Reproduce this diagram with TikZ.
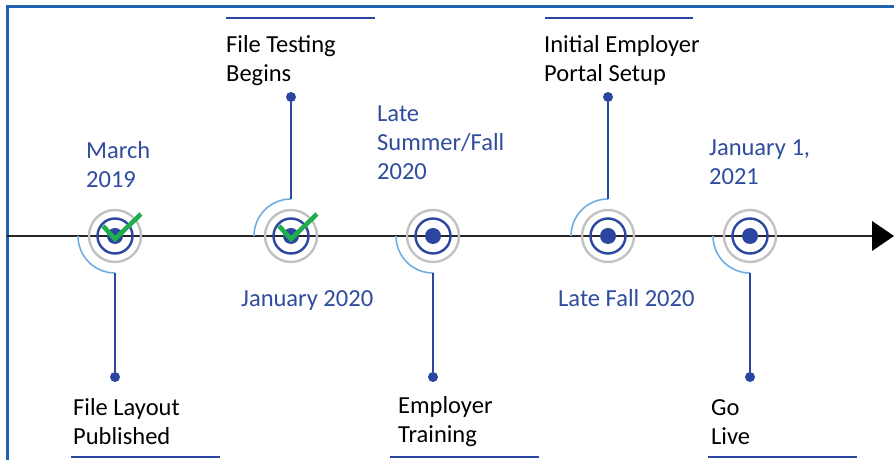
\documentclass[tikz,border=0pt]{standalone}
\usepackage{fontspec}
\setmainfont{Carlito}
\definecolor{frameblue}{HTML}{1F63B0}
\definecolor{dblue}{HTML}{2B46A0}
\definecolor{tblue}{HTML}{2F4C9E}
\definecolor{lblue}{HTML}{6FAEE3}
\definecolor{ringgray}{HTML}{C2C2C2}
\definecolor{ckgreen}{HTML}{1FAE4E}
\definecolor{axisc}{HTML}{262626}
\begin{document}
\begin{tikzpicture}[x=1pt,y=1pt,
  ring/.style={circle,draw=ringgray,line width=2.4pt,minimum size=52pt,inner sep=0pt},
  inring/.style={circle,draw=dblue,line width=2.4pt,minimum size=35pt,inner sep=0pt},
  core/.style={circle,fill=dblue,minimum size=16pt,inner sep=0pt},
  enddot/.style={circle,fill=dblue,minimum size=10pt,inner sep=0pt},
  stem/.style={draw=dblue,line width=1.8pt},
  lightarc/.style={draw=lblue,line width=1.6pt},
  bar/.style={draw=dblue,line width=2.6pt},
  datelbl/.style={anchor=base west,align=left,inner sep=0pt,text=tblue,font=\fontsize{24.5}{29}\selectfont},
  eventlbl/.style={anchor=base west,align=left,inner sep=0pt,text=black,font=\fontsize{24.5}{29}\selectfont},
  check/.style={draw=ckgreen,line width=4.6pt,line join=miter}
]
\useasboundingbox (0,0) rectangle (894,460);
\clip (0,0) rectangle (894,460);
\fill[white] (0,0) rectangle (894,460);
% frame
\draw[frameblue,line width=3pt] (7,-20) -- (7,453) -- (920,453);
% axis
\coordinate (ax0) at (7,224);
\coordinate (ax1) at (874,224);
\draw[axisc,line width=1.6pt] (ax0) -- (ax1);
\fill[black] (872,239) -- (894,224) -- (872,209) -- cycle;
% markers
\foreach \i/\x in {1/115,2/291,3/433,4/608,5/750}{
  \node[ring] (r\i) at (\x,224) {};
  \node[inring] (m\i) at (\x,224) {};
  \node[core] (c\i) at (\x,224) {};
}
% bottom stems
\foreach \i/\x in {1/115,3/433,5/750}{
  \coordinate (s\i) at (\x,187);
  \node[enddot] (d\i) at (\x,83) {};
  \draw[lightarc] (\x-37,224) arc[start angle=180,end angle=270,radius=37];
  \draw[stem] (s\i) -- (d\i);
}
% top stems
\foreach \i/\x in {2/291,4/608}{
  \coordinate (s\i) at (\x,261);
  \node[enddot] (d\i) at (\x,363) {};
  \draw[lightarc] (\x-37,224) arc[start angle=180,end angle=90,radius=37];
  \draw[stem] (s\i) -- (d\i);
}
% check marks
\draw[check] ([shift={(-12,10)}]c1.center) -- ([shift={(0,-3)}]c1.center) -- ([shift={(26,22)}]c1.center);
\draw[check] ([shift={(-12,10)}]c2.center) -- ([shift={(0,-3)}]c2.center) -- ([shift={(26,22)}]c2.center);
% date labels (anchor = baseline of last line)
\node[datelbl] (t1) at (86,272) {March\\2019};
\node[datelbl] (t2) at (241,153) {January 2020};
\node[datelbl] (t3) at (377,280) {Late\\Summer/Fall\\2020};
\node[datelbl] (t4) at (558,153) {Late Fall 2020};
\node[datelbl] (t5) at (709,275) {January 1,\\2021};
% event labels
\node[eventlbl] (e1) at (73,15) {File Layout\\Published};
\node[eventlbl] (e2) at (226,378) {File Testing\\Begins};
\node[eventlbl] (e3) at (398,17) {Employer\\Training};
\node[eventlbl] (e4) at (544,378) {Initial Employer\\Portal Setup};
\node[eventlbl] (e5) at (711,15) {Go\\Live};
% bars
\draw[bar] (71,3) -- (220,3);
\draw[bar] (390,3) -- (539,3);
\draw[bar] (708,3) -- (857,3);
\draw[bar] (226,442) -- (375,442);
\draw[bar] (545,442) -- (693,442);
\end{tikzpicture}
\end{document}
